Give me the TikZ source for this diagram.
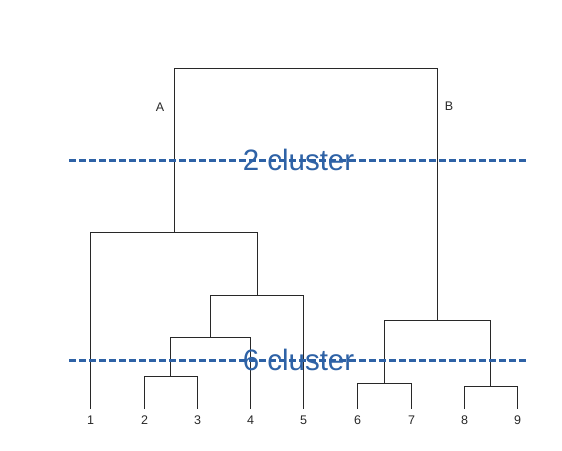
\documentclass[tikz,border=0pt]{standalone}
\usepackage{fontspec}
\setmainfont{Liberation Sans}
\usetikzlibrary{positioning}
\definecolor{cutblue}{RGB}{46,98,166}
\definecolor{treegray}{RGB}{40,40,40}

\tikzset{
    branch/.style={draw=treegray, line width=1pt},
    leaf/.style={font=\fontsize{12.5}{14}\selectfont, text=treegray, inner sep=0pt},
    cutline/.style={draw=cutblue, line width=2.4pt, dash pattern=on 7pt off 3pt},
    cutlabel/.style={font=\fontsize{29.5}{32}\selectfont, text=cutblue, inner sep=0pt}
}

\begin{document}
\begin{tikzpicture}[x=1pt,y=-1pt]
    \useasboundingbox (0,0) rectangle (562,450);

    % leaves
    \foreach \i/\x in {1/90.5,2/144.5,3/197.5,4/250.5,5/303.5,6/357.5,7/411.5,8/464.5,9/517.5}{
        \coordinate (t\i) at (\x,409);
        \node[leaf] (n\i) at (\x,420) {\i};
    }

    % merge points
    \coordinate (m23) at (170.5,376.5);
    \coordinate (m234) at (210.5,337.5);
    \coordinate (m2345) at (257.5,295.5);
    \coordinate (mA) at (174.5,232.5);
    \coordinate (m67) at (384.5,383.5);
    \coordinate (m89) at (490.5,386.5);
    \coordinate (mB) at (437.5,320.5);
    \coordinate (root) at (305.5,68.5);

    \begin{scope}[branch]
        \draw (t2) |- (m23) -| (t3);
        \draw (m23) |- (m234) -| (t4);
        \draw (m234) |- (m2345) -| (t5);
        \draw (t1) |- (mA) -| (m2345);
        \draw (t6) |- (m67) -| (t7);
        \draw (t8) |- (m89) -| (t9);
        \draw (m67) |- (mB) -| (m89);
        \draw (mA) |- (root) -| (mB);
    \end{scope}

    \node[leaf] (lA) at (160,107) {A};
    \node[leaf] (lB) at (449,106.5) {B};

    % cuts
    \coordinate (c2l) at (69,160.5);
    \coordinate (c2r) at (527,160.5);
    \coordinate (c6l) at (69,360.5);
    \coordinate (c6r) at (527,360.5);
    \draw[cutline] (c2l) -- (c2r);
    \draw[cutline] (c6l) -- (c6r);
    \node[cutlabel] (k2) at (298.5,160) {2 cluster};
    \node[cutlabel] (k6) at (298.5,360) {6 cluster};
\end{tikzpicture}
\end{document}
